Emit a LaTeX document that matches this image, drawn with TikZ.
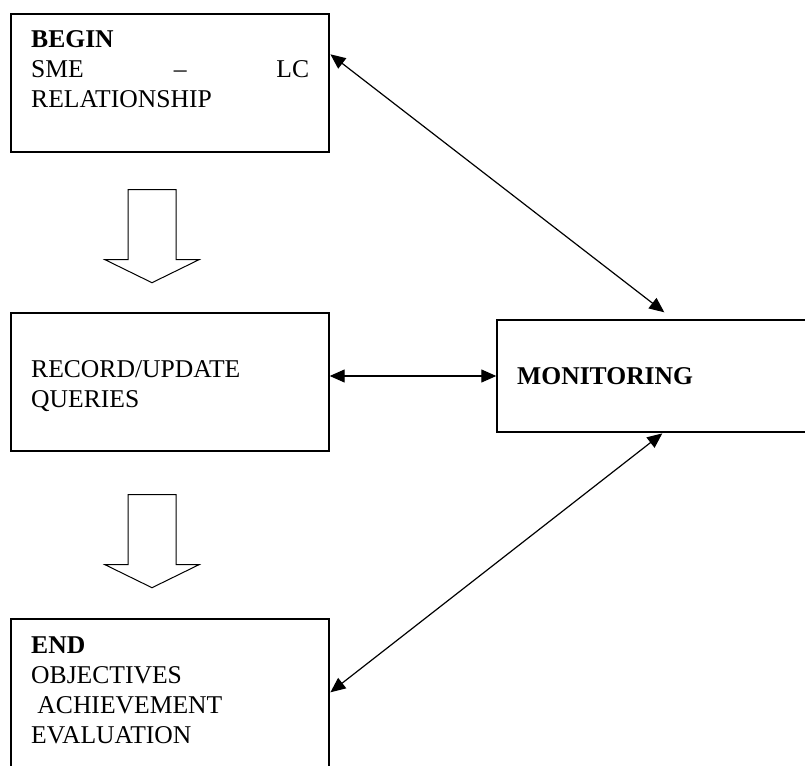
\documentclass[tikz,border=0pt]{standalone}
\usepackage{fontspec}
\setmainfont{Liberation Serif}
\usetikzlibrary{arrows.meta,calc}
\begin{document}
\begin{tikzpicture}[x=1pt,y=-1pt,
  stagebox/.style={draw,line width=1.4pt,inner sep=0pt,rectangle},
  boxtext/.style={inner sep=0pt,anchor=base west},
  link/.style={line width=1.2pt,{Triangle[length=15pt,width=13pt]}-{Triangle[length=15pt,width=13pt]}},
  blockarrow/.style={draw,line width=1pt,line join=miter,fill=white}]
\useasboundingbox (0,0) rectangle (805,765);
\clip (0,0) rectangle (805,765);
\fill[white] (0,0) rectangle (805,765);
\newcommand{\stagefont}{\fontsize{25.6}{30}\selectfont}

% stage boxes
\node[stagebox,minimum width=318pt,minimum height=138pt] (b1) at (170,83) {};
\node[stagebox,minimum width=318pt,minimum height=138pt] (b2) at (170,382) {};
\node[stagebox,minimum width=330pt,minimum height=112pt] (b3) at (662,376) {};
\node[stagebox,minimum width=318pt,minimum height=160pt] (b4) at (170,699) {};

% box texts
\node[boxtext] (t1) at (31,48) {\parbox[t]{290pt}{\stagefont\textbf{BEGIN}\\
  \hbox to 278pt{SME\hfill--\hfill LC}\\RELATIONSHIP}};
\node[boxtext] (t2) at (31,377) {\parbox[t]{290pt}{\stagefont RECORD/UPDATE\\QUERIES}};
\node[boxtext] (t3) at (517,384) {\stagefont\textbf{MONITORING}};
\node[boxtext] (t4) at (31,653) {\parbox[t]{290pt}{\stagefont\textbf{END}\\
  OBJECTIVES\\\hspace*{6.25pt}ACHIEVEMENT\\EVALUATION}};

% hollow block arrows between the stages
\draw[blockarrow] ($(b1.south)+(-42,37)$) -- ++(0,70) -- ++(-23,0)
  -- ($(b1.south)+(-18,130)$) -- ++(47,-23) -- ++(-23,0) -- ++(0,-70) -- cycle;
\draw[blockarrow] ($(b2.south)+(-42,43)$) -- ++(0,70) -- ++(-23,0)
  -- ($(b2.south)+(-18,136)$) -- ++(47,-23) -- ++(-23,0) -- ++(0,-70) -- cycle;

% connectors to the monitoring box
\coordinate (c1) at ($(b1.north east)+(0.7,41)$);
\coordinate (c2) at ($(b3.north west)+(168,-7)$);
\coordinate (c3) at ($(b3.south west)+(166,0.7)$);
\coordinate (c4) at ($(b4.north east)+(0.7,74)$);
\draw[link] (c1) -- (c2);
\draw[link] (b2.east |- b3.west) -- (b3.west);
\draw[link] (c3) -- (c4);
\end{tikzpicture}
\end{document}
